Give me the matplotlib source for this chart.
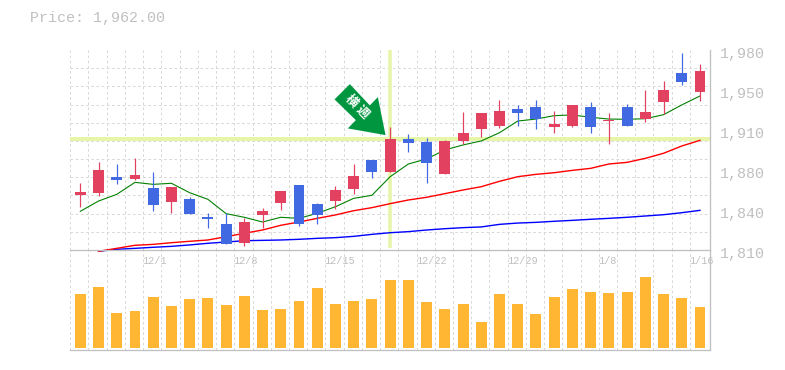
import numpy as np
import matplotlib
matplotlib.use("Agg")
import matplotlib.pyplot as plt
from matplotlib.patches import Polygon
from matplotlib.transforms import Affine2D, ScaledTranslation

W, H = 785, 370
MONO = "Liberation Mono"
CJK = ["Noto Sans CJK JP", "DejaVu Sans"]

price_label = "Price: 1,962.00"
date_labels = ["12/1", "12/8", "12/15", "12/22", "12/29", "1/8", "1/16"]
date_positions = [4, 9, 14, 19, 24, 29, 34]
y_ticks = [1810, 1844, 1878, 1912, 1946, 1980]
y_labels = ["1,810", "1,840", "1,880", "1,910", "1,950", "1,980"]
highlight_price = 1904
highlight_index = 17
badge_text = ["横", "週"]

up = [1, 1, 0, 1, 0, 1, 0, 0, 0, 1, 1, 1, 0, 0, 1, 1, 0, 1, 0, 0, 1, 1, 1, 1, 0, 0, 1, 1, 0, 1, 0, 1, 1, 0, 1]
highs = [1866.7, 1884.8, 1883.1, 1888.2, 1876.3, 1863.5, 1855.0, 1841.5, 1841.5, 1837.2, 1845.7, 1860.2,
         1865.3, 1850.0, 1864.4, 1883.1, 1886.5, 1914.5, 1908.6, 1905.2, 1903.5, 1927.3, 1926.5, 1937.5,
         1933.3, 1937.5, 1928.2, 1933.3, 1935.8, 1926.5, 1934.1, 1946.0, 1953.6, 1977.4, 1968.1]
tops = [1859.3, 1878.0, 1872.0, 1873.8, 1862.7, 1863.5, 1853.3, 1838.0, 1832.1, 1833.8, 1843.1, 1860.2,
        1865.3, 1849.1, 1861.0, 1872.9, 1886.5, 1904.3, 1904.3, 1901.8, 1902.7, 1909.5, 1926.5, 1928.2,
        1929.9, 1931.6, 1917.1, 1933.3, 1931.6, 1920.5, 1931.6, 1927.3, 1946.0, 1960.4, 1962.2]
bottoms = [1856.8, 1858.5, 1869.5, 1870.3, 1848.3, 1850.8, 1840.6, 1836.3, 1815.1, 1816.0, 1839.8, 1850.0,
           1832.1, 1839.8, 1851.6, 1861.9, 1876.3, 1876.3, 1900.9, 1884.0, 1874.6, 1902.7, 1912.8, 1915.4,
           1926.5, 1921.3, 1914.5, 1915.4, 1914.5, 1919.6, 1915.4, 1921.3, 1935.8, 1952.8, 1944.3]
lows = [1846.5, 1855.9, 1866.1, 1869.5, 1843.1, 1841.5, 1840.6, 1828.7, 1815.1, 1813.4, 1828.7, 1844.0,
        1830.4, 1832.1, 1844.9, 1857.6, 1871.2, 1876.3, 1893.3, 1867.0, 1874.6, 1900.1, 1906.0, 1913.7,
        1915.4, 1912.8, 1909.5, 1914.5, 1909.5, 1900.1, 1915.4, 1918.8, 1925.6, 1950.3, 1936.6]
ma_short = [1842.9, 1851.6, 1857.3, 1867.5, 1865.8, 1866.7, 1858.7, 1853.1, 1840.9, 1837.8, 1833.8, 1837.8,
            1836.9, 1841.2, 1846.8, 1853.9, 1856.5, 1872.3, 1883.1, 1887.4, 1895.0, 1899.3, 1902.7, 1909.7,
            1919.6, 1921.3, 1924.2, 1924.8, 1922.8, 1921.3, 1921.1, 1921.6, 1925.0, 1933.3, 1940.9]
ma_mid = [np.nan, 1808.9, 1811.4, 1814.0, 1814.8, 1816.2, 1817.4, 1818.5, 1821.3, 1824.2, 1827.0, 1831.0,
          1833.8, 1836.9, 1839.8, 1843.4, 1846.0, 1849.4, 1852.5, 1854.8, 1857.9, 1861.0, 1863.8, 1868.4,
          1872.3, 1874.3, 1875.7, 1877.7, 1879.4, 1883.1, 1884.5, 1887.9, 1892.2, 1898.4, 1903.2]
ma_long = [np.nan, 1808.9, 1810.6, 1811.4, 1812.3, 1813.1, 1814.3, 1815.7, 1816.8, 1817.9, 1818.2, 1818.5,
           1819.1, 1819.9, 1820.5, 1821.6, 1823.3, 1824.7, 1825.6, 1827.0, 1828.1, 1829.0, 1829.6, 1831.8,
           1832.9, 1833.5, 1834.4, 1835.2, 1836.1, 1836.9, 1837.8, 1838.9, 1840.0, 1841.7, 1843.7]
volume = [54, 61, 35, 37, 51, 42, 49, 50, 43, 52, 38, 39, 47, 60, 44, 47, 49, 68,
          68, 46, 39, 44, 26, 54, 44, 34, 51, 59, 56, 55, 56, 71, 54, 50, 41]

RED, BLUE = "#e2415f", "#4169e1"
GRID = "#d8d8d8"
FRAME = "#c0c0c0"
BAND = "#e6f5a8"
px = 72 / 100

fig = plt.figure(figsize=(W / 100, H / 100), dpi=100, facecolor="white")
def box(l, t, r, b):
    return [l / W, 1 - b / H, (r - l) / W, (b - t) / H]

axv = fig.add_axes(box(70, 250, 710, 350), zorder=1)
axp = fig.add_axes(box(70, 50, 710, 250), zorder=2)
axp.patch.set_alpha(0)

n = len(volume)
idx = np.arange(n)
XLIM = (-0.565, 34.55)
dash = (0, (2.6, 2.6))
for ax in (axp, axv):
    ax.set_xlim(*XLIM)
    ax.set_xticks(idx - 0.55, minor=True)
    ax.grid(which="minor", axis="x", color=GRID, lw=1 * px, ls=dash)
    ax.set_axisbelow(True)
    ax.tick_params(which="both", length=0)
    for s in ax.spines.values():
        s.set_visible(False)
    ax.spines["right"].set(visible=True, color=FRAME, lw=1.3 * px)
    ax.spines["bottom"].set(visible=True, color=FRAME, lw=1.3 * px)

# volume panel
axv.set_ylim(-2, 98)
axv.set_yticks([])
axv.set_xticks([])
axv.bar(idx, volume, width=0.6, color="#ffb733", zorder=3)

# price panel
axp.set_ylim(1810, 1980)
axp.set_yticks(1980 - np.arange(11) * 170 / 11, minor=True)
axp.grid(which="minor", axis="y", color=GRID, lw=1 * px, ls=dash)
axp.yaxis.tick_right()
axp.set_yticks(y_ticks, y_labels)
axp.tick_params(axis="y", which="major", pad=10 * px, labelsize=15 * px, labelcolor=FRAME)
off_y = ScaledTranslation(0, -2.5 * px / 72, fig.dpi_scale_trans)
for lab in axp.get_yticklabels():
    lab.set_fontfamily(MONO)
    lab.set_transform(lab.get_transform() + off_y)

axp.set_xticks(date_positions, date_labels)
axp.tick_params(axis="x", which="major", pad=6.5 * px, labelsize=10.2 * px, labelcolor=FRAME)
off_x = ScaledTranslation(-10.8 * px / 72, 0, fig.dpi_scale_trans)
for lab in axp.get_xticklabels():
    lab.set_fontfamily(MONO)
    lab.set_ha("left")
    lab.set_transform(lab.get_transform() + off_x)

axp.axhline(highlight_price, color=BAND, lw=4 * px, zorder=1.5)
axp.plot([highlight_index, highlight_index], [1812, 1980], color=BAND, lw=3.5 * px, zorder=1.5,
         solid_capstyle="butt")

axp.plot(idx, ma_long, color="#0000ff", lw=1.4 * px, zorder=2, clip_on=False)
axp.plot(idx, ma_mid, color="#ff0000", lw=1.4 * px, zorder=2.1, clip_on=False)
axp.plot(idx, ma_short, color="#008000", lw=1.1 * px, zorder=2.2)

for i in idx:
    c = RED if up[i] else BLUE
    axp.plot([i, i], [lows[i], highs[i]], color=c, lw=1.2 * px, zorder=3, solid_capstyle="butt")
    axp.bar(i, tops[i] - bottoms[i], bottom=bottoms[i], width=0.6, color=c, zorder=3.1)

# signal arrow, shape given relative to its tip in pixels (y up)
tip_x, tip_y = axp.transData.transform((highlight_index, highlight_price))
tip_x -= 4.6
tip_y += 4.3
shape = [(-35.7, 51), (-51, 35.7), (-29.7, 15), (-37.7, 6.7), (0, 0), (-7.7, 38), (-15.7, 29.7)]
fig.add_artist(Polygon(shape, closed=True, facecolor="#00963f", edgecolor="none",
                       transform=Affine2D().translate(tip_x, tip_y), zorder=5))
for t, (dx, dy) in zip(badge_text, [(-34, 33.5), (-23.4, 22.7)]):
    fig.text((tip_x + dx) / W, (tip_y + dy) / H, t, color="white", fontsize=12.5 * px,
             family=CJK, fontweight="bold", rotation=-45, ha="center", va="center",
             rotation_mode="anchor", zorder=6)

fig.text(30 / W, 1 - 18 / H, price_label, color=FRAME, fontsize=15 * px, family=MONO,
         ha="left", va="center")

fig.savefig("out.png", dpi=100)
